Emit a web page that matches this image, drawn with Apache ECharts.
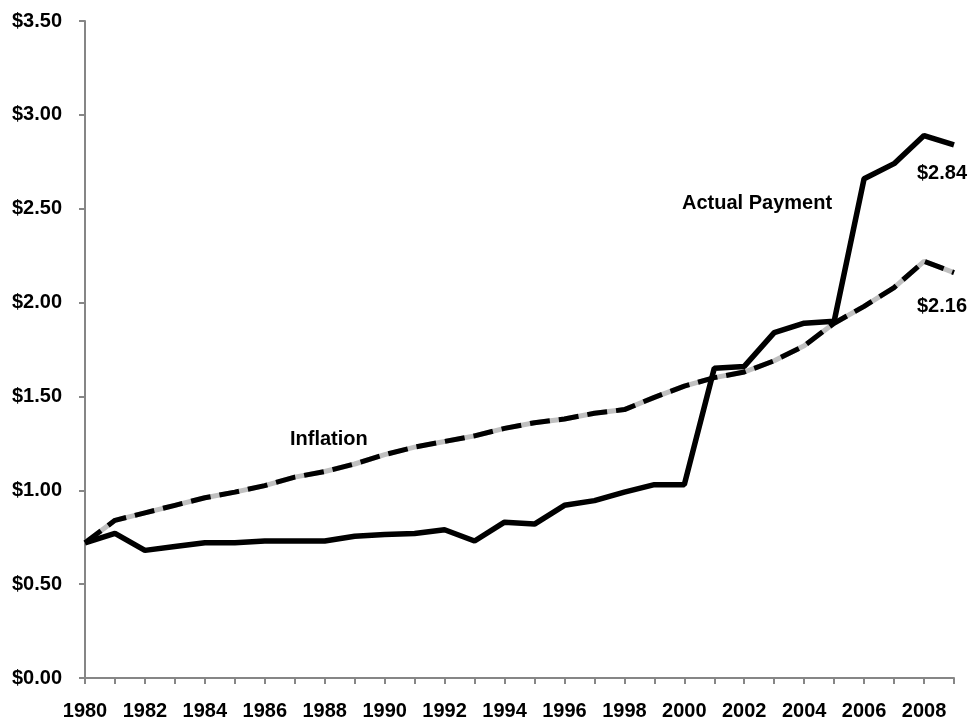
<!DOCTYPE html>
<html>
<head>
<meta charset="utf-8">
<script src="https://cdn.jsdelivr.net/npm/echarts@6/dist/echarts.min.js"></script>
<style>
  html, body { margin: 0; padding: 0; background: #fff; }
  #chart { width: 973px; height: 721px; }
</style>
</head>
<body>
<div id="chart"></div>
<script>
const years = ['1980', '1981', '1982', '1983', '1984', '1985', '1986', '1987', '1988', '1989',
  '1990', '1991', '1992', '1993', '1994', '1995', '1996', '1997', '1998', '1999',
  '2000', '2001', '2002', '2003', '2004', '2005', '2006', '2007', '2008', '2009'];
const actualPayment = [0.72, 0.77, 0.68, 0.70, 0.72, 0.72, 0.73, 0.73, 0.73, 0.755,
  0.765, 0.77, 0.79, 0.73, 0.83, 0.82, 0.92, 0.945, 0.99, 1.03,
  1.03, 1.65, 1.66, 1.84, 1.89, 1.90, 2.66, 2.74, 2.89, 2.84];
const inflation = [0.72, 0.84, 0.88, 0.92, 0.96, 0.99, 1.025, 1.07, 1.10, 1.14,
  1.19, 1.23, 1.26, 1.29, 1.33, 1.36, 1.38, 1.41, 1.43, 1.495,
  1.555, 1.60, 1.63, 1.69, 1.77, 1.89, 1.98, 2.08, 2.22, 2.16];
const yTicks = [0, 0.5, 1, 1.5, 2, 2.5, 3, 3.5];

const font = '"Liberation Sans", Arial, sans-serif';
const chart = echarts.init(document.getElementById('chart'));

const option = {
  animation: false,
  backgroundColor: '#fff',
  grid: {
    left: 85,
    right: 19,
    top: 21,
    bottom: 42,
  },
  xAxis: {
    type: 'category',
    boundaryGap: false,
    data: years,
    axisLine: { lineStyle: { color: '#868686', width: 2 } },
    axisTick: { show: true, length: 6, interval: 0, lineStyle: { color: '#868686', width: 2 } },
    axisLabel: {
      interval: 1,
      margin: 23,
      color: '#000',
      fontFamily: font,
      fontWeight: 'bold',
      fontSize: 20,
    },
    splitLine: { show: false },
  },
  yAxis: {
    type: 'value',
    min: yTicks[0],
    max: yTicks[yTicks.length - 1],
    interval: 0.5,
    axisLine: { show: true, lineStyle: { color: '#868686', width: 2 } },
    axisTick: { show: true, length: 6, lineStyle: { color: '#868686', width: 2 } },
    axisLabel: {
      margin: 23,
      color: '#000',
      fontFamily: font,
      fontWeight: 'bold',
      fontSize: 20,
      formatter: (v) => '$' + v.toFixed(2),
    },
    splitLine: { show: false },
  },
  series: [
    {
      name: 'Inflation base',
      type: 'line',
      data: inflation,
      symbol: 'none',
      lineStyle: { color: '#c0c0c0', width: 5 },
      z: 2,
    },
    {
      name: 'Inflation',
      type: 'line',
      data: inflation,
      symbol: 'none',
      lineStyle: { color: '#000', width: 5, type: [20, 9] },
      z: 3,
    },
    {
      name: 'Actual Payment',
      type: 'line',
      data: actualPayment,
      symbol: 'none',
      lineStyle: { color: '#000', width: 5.5 },
      z: 4,
    },
  ],
  graphic: [
    {
      type: 'text',
      left: 290,
      top: 429,
      style: { text: 'Inflation', font: 'bold 20px ' + font, fill: '#000' },
    },
    {
      type: 'text',
      left: 682,
      top: 193,
      style: { text: 'Actual Payment', font: 'bold 20px ' + font, fill: '#000' },
    },
    {
      type: 'text',
      left: 917,
      top: 163,
      style: { text: '$' + actualPayment[actualPayment.length - 1].toFixed(2), font: 'bold 20px ' + font, fill: '#000' },
    },
    {
      type: 'text',
      left: 917,
      top: 296,
      style: { text: '$' + inflation[inflation.length - 1].toFixed(2), font: 'bold 20px ' + font, fill: '#000' },
    },
  ],
};

chart.setOption(option);
</script>
</body>
</html>
